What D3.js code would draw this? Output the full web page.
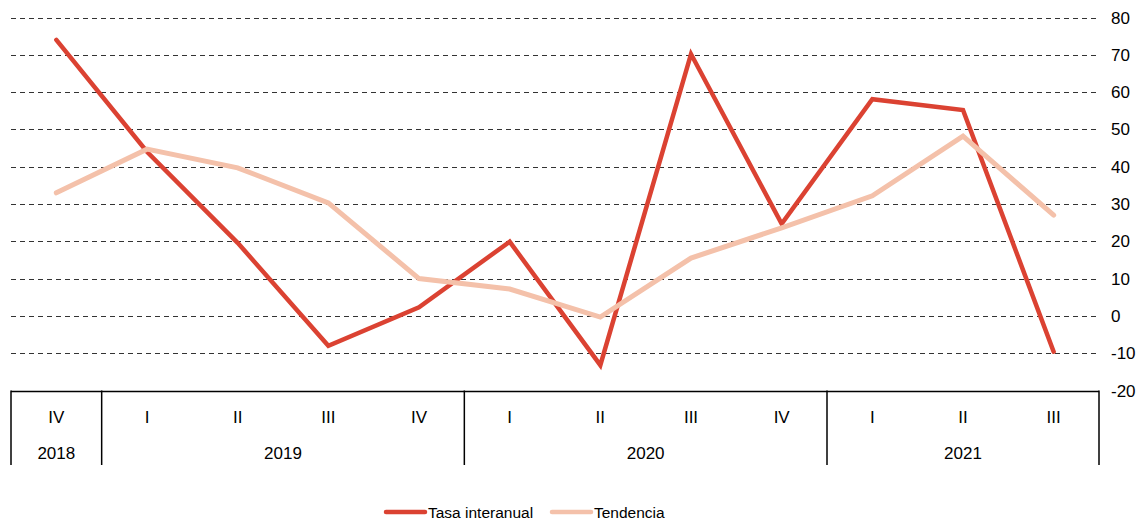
<!DOCTYPE html>
<html>
<head>
    <script src="https://cdnjs.cloudflare.com/ajax/libs/d3/7.8.5/d3.min.js"></script>
    <style>
        body { margin: 0; background: #fff; }
        text { font-family: "Liberation Sans", Arial, sans-serif; fill: #000; }
    </style>
</head>
<body>
    <div id="chart"></div>
    <script>
const quarters = ['IV', 'I', 'II', 'III', 'IV', 'I', 'II', 'III', 'IV', 'I', 'II', 'III'];
const years = [
    { label: '2018', start: 0, end: 1 },
    { label: '2019', start: 1, end: 5 },
    { label: '2020', start: 5, end: 9 },
    { label: '2021', start: 9, end: 12 }
];
const tasa = [74, 44, 19.6, -8, 2.3, 19.9, -13.2, 70.2, 24.7, 58.1, 55.2, -9.6];
const tendencia = [33, 44.7, 39.7, 30.3, 10, 7.2, -0.3, 15.5, 23.6, 32.2, 48.2, 27];
const yTicks = [80, 70, 60, 50, 40, 30, 20, 10, 0, -10, -20];

const width = 1145, height = 520;
const plotLeft = 11, plotRight = 1099, plotTop = 17.5, plotBottom = 390.5;

const svg = d3.select('#chart').append('svg')
    .attr('width', width)
    .attr('height', height);

const x = d3.scaleBand()
    .domain(d3.range(quarters.length))
    .range([plotLeft, plotRight]);

const y = d3.scaleLinear()
    .domain([-20, 80])
    .range([plotBottom, plotTop]);

// dashed gridlines
svg.append('g')
    .selectAll('line')
    .data(yTicks.filter(d => d > -20))
    .join('line')
    .attr('x1', plotLeft)
    .attr('x2', plotRight)
    .attr('y1', d => Math.round(y(d)) + 0.5)
    .attr('y2', d => Math.round(y(d)) + 0.5)
    .attr('stroke', '#333')
    .attr('stroke-width', 1)
    .attr('stroke-dasharray', '5,4');

// right axis labels
svg.append('g')
    .selectAll('text')
    .data(yTicks)
    .join('text')
    .attr('x', 1111)
    .attr('y', d => y(d) + 6)
    .attr('font-size', 17)
    .text(d => d);

// category box
const boxBottom = 465;
svg.append('line')
    .attr('x1', plotLeft).attr('x2', plotRight)
    .attr('y1', Math.round(plotBottom) + 0.5).attr('y2', Math.round(plotBottom) + 0.5)
    .attr('stroke', '#000').attr('stroke-width', 1.5);

const seps = [0].concat(years.map(d => d.end));
svg.append('g')
    .selectAll('line')
    .data(seps)
    .join('line')
    .attr('x1', d => d === quarters.length ? plotRight : x(d))
    .attr('x2', d => d === quarters.length ? plotRight : x(d))
    .attr('y1', plotBottom)
    .attr('y2', boxBottom)
    .attr('stroke', '#000')
    .attr('stroke-width', 1.5);

svg.append('g')
    .selectAll('text')
    .data(quarters)
    .join('text')
    .attr('x', (d, i) => x(i) + x.bandwidth() / 2)
    .attr('y', 423)
    .attr('text-anchor', 'middle')
    .attr('font-size', 17)
    .text(d => d);

svg.append('g')
    .selectAll('text')
    .data(years)
    .join('text')
    .attr('x', d => (x(d.start) + (d.end === quarters.length ? plotRight : x(d.end))) / 2)
    .attr('y', 459)
    .attr('text-anchor', 'middle')
    .attr('font-size', 17)
    .text(d => d.label);

// series lines
const line = d3.line()
    .x((d, i) => x(i) + x.bandwidth() / 2)
    .y(d => y(d));

svg.append('path')
    .datum(tasa)
    .attr('d', line)
    .attr('fill', 'none')
    .attr('stroke', '#db4232')
    .attr('stroke-width', 4.5)
    .attr('stroke-linejoin', 'miter')
    .attr('stroke-linecap', 'round');

svg.append('path')
    .datum(tendencia)
    .attr('d', line)
    .attr('fill', 'none')
    .attr('stroke', '#f4c1aa')
    .attr('stroke-width', 5)
    .attr('stroke-linejoin', 'miter')
    .attr('stroke-linecap', 'round');

// legend
const legend = [
    { label: 'Tasa interanual', color: '#db4232', x: 386 },
    { label: 'Tendencia', color: '#f4c1aa', x: 552 }
];
const lg = svg.append('g')
    .selectAll('g')
    .data(legend)
    .join('g')
    .attr('transform', d => `translate(${d.x},512)`);
lg.append('line')
    .attr('x1', 0).attr('x2', 39)
    .attr('stroke', d => d.color)
    .attr('stroke-width', 4.5)
    .attr('stroke-linecap', 'round');
lg.append('text')
    .attr('x', 42)
    .attr('y', 6)
    .attr('font-size', 15.5)
    .text(d => d.label);
    </script>
</body>
</html>
